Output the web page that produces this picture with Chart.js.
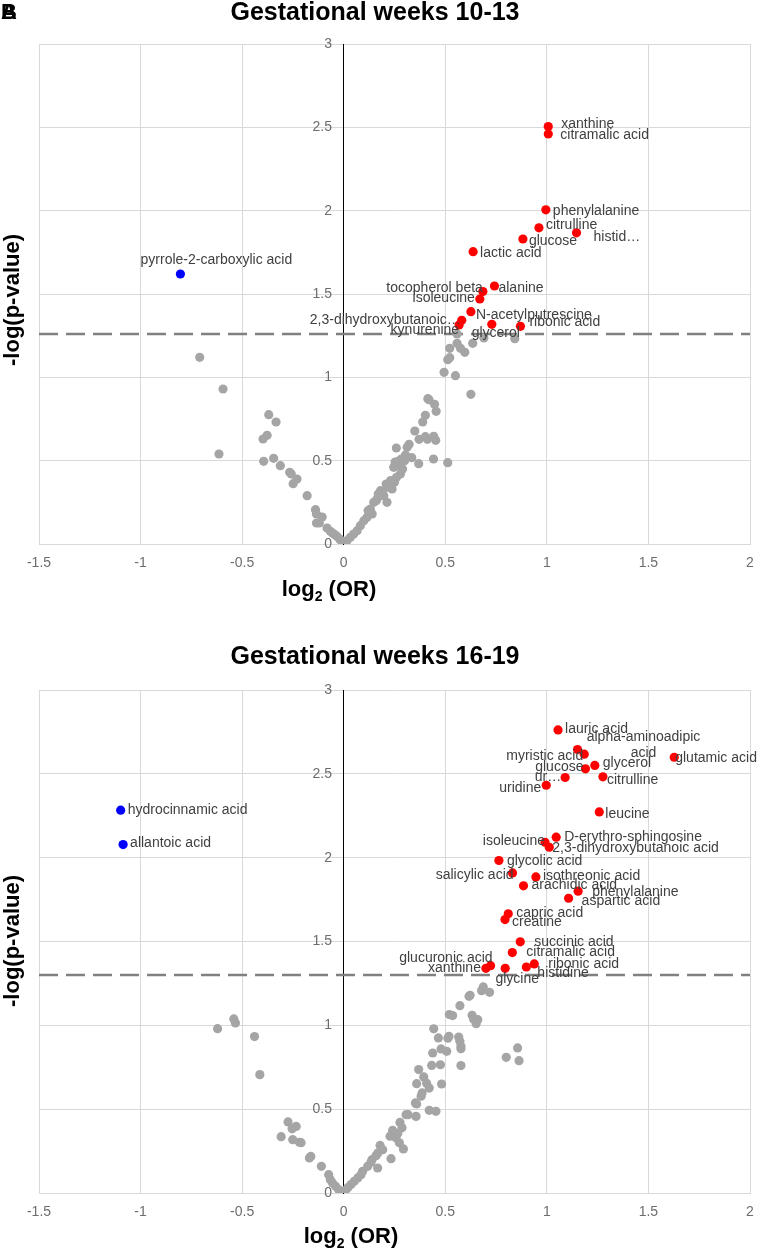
<!DOCTYPE html>
<html>
<head>
<meta charset="utf-8">
<title>Volcano plots</title>
<script src="https://cdn.jsdelivr.net/npm/chart.js@4.4.1/dist/chart.umd.min.js"></script>
<style>
  body { margin: 0; background: #fff; width: 763px; height: 1251px; overflow: hidden; position: relative; }
  .panel { position: absolute; left: 0; width: 763px; }
  #p1 { top: 0; height: 615px; }
  #p2 { top: 644px; height: 607px; }
</style>
</head>
<body>
<div class="panel" id="p1"><canvas id="c1"></canvas></div>
<div class="panel" id="p2"><canvas id="c2"></canvas></div>
<script>
// axis range, shared by both panels
const xMin = -1.5, xMax = 2;
const yMin = 0, yMax = 3;

// ---- gestational weeks 10-13 ----
const wk10Title = 'Gestational weeks 10-13';
const wk10Cut = 1.26;
const wk10SigNames = ['xanthine', 'citramalic acid', 'phenylalanine', 'citrulline', 'histid\u2026', 'glucose',
  'lactic acid', 'alanine', 'tocopherol beta', 'isoleucine', 'N-acetylputrescine',
  '2,3-dihydroxybutanoic\u2026', 'kynurenine', 'glycerol', 'ribonic acid'];
const wk10SigX = [1.007, 1.007, 0.995, 0.961, 1.146, 0.882, 0.637, 0.742, 0.685, 0.670, 0.626, 0.581, 0.568, 0.729, 0.870];
const wk10SigY = [2.505, 2.460, 2.005, 1.897, 1.867, 1.830, 1.754, 1.548, 1.515, 1.470, 1.394, 1.342, 1.314, 1.318, 1.306];
const wk10NegNames = ['pyrrole-2-carboxylic acid'];
const wk10NegX = [-0.804];
const wk10NegY = [1.62];
const wk10RestX = [-0.709, -0.594, -0.614, -0.369, -0.333, -0.377, -0.397, -0.394, -0.345, -0.312, -0.266, -0.258,
  -0.249, -0.23, -0.18, -0.139, -0.134, -0.106, -0.134, -0.12, -0.082, -0.066, -0.055, -0.044, -0.033, -0.02, -0.01, 0,
  0.558, 0.522, 0.558, 0.575, 0.596, 0.635, 0.69, 0.842, 0.512, 0.522, 0.494, 0.55, 0.626, 0.414, 0.42, 0.447,
  0.455, 0.402, 0.389, 0.35, 0.371, 0.402, 0.412, 0.443, 0.453, 0.322, 0.312, 0.259, 0.335, 0.304, 0.284, 0.253,
  0.271, 0.246, 0.282, 0.369, 0.442, 0.512, 0.279, 0.25, 0.209, 0.238, 0.181, 0.197, 0.213, 0.164, 0.148, 0.131,
  0.14, 0.115, 0.099, 0.082, 0.066, 0.049, 0.033, 0.016, 0.12, 0.16, 0.19, 0.22, 0.26, 0.29, 0.3, 0.23, 0.17];
const wk10RestY = [1.12, 0.93, 0.54, 0.776, 0.732, 0.652, 0.63, 0.496, 0.514, 0.47, 0.43, 0.42,
  0.362, 0.39, 0.29, 0.206, 0.18, 0.162, 0.126, 0.126, 0.096, 0.076, 0.066, 0.056, 0.046, 0.03, 0.016, 0.002,
  1.26, 1.174, 1.204, 1.174, 1.15, 1.204, 1.236, 1.232, 1.106, 1.118, 1.03, 1.01, 0.898, 0.872, 0.866, 0.838,
  0.796, 0.772, 0.732, 0.678, 0.628, 0.644, 0.628, 0.646, 0.622, 0.598, 0.58, 0.576, 0.518, 0.534, 0.51, 0.492,
  0.498, 0.46, 0.46, 0.482, 0.51, 0.488, 0.42, 0.37, 0.36, 0.33, 0.32, 0.29, 0.25, 0.27, 0.25, 0.21,
  0.18, 0.16, 0.14, 0.11, 0.08, 0.06, 0.04, 0.02, 0.2, 0.26, 0.31, 0.34, 0.4, 0.45, 0.5, 0.38, 0.3];

// ---- gestational weeks 16-19 ----
const wk16Title = 'Gestational weeks 16-19';
const wk16Cut = 1.30;
const wk16SigNames = ['lauric acid', 'alpha-aminoadipic\nacid', 'myristic acid', 'glutamic acid', 'glycerol', 'glucose',
  'ur\u2026', 'citrulline', 'uridine', 'leucine', 'D-erythro-sphingosine', 'isoleucine', '2,3-dihydroxybutanoic acid',
  'glycolic acid', 'salicylic acid', 'isothreonic acid', 'arachidic acid', 'phenylalanine', 'aspartic acid',
  'capric acid', 'creatine', 'succinic acid', 'citramalic acid', 'ribonic acid', 'histidine', 'glycine',
  'glucuronic acid', 'xanthine'];
const wk16SigX = [1.055, 1.151, 1.184, 1.627, 1.236, 1.19, 1.09, 1.276, 0.997, 1.258, 1.046, 0.991, 1.012,
  0.764, 0.831, 0.946, 0.885, 1.154, 1.107, 0.81, 0.794, 0.869, 0.83, 0.938, 0.899, 0.795, 0.723, 0.70];
const wk16SigY = [2.762, 2.645, 2.617, 2.599, 2.55, 2.53, 2.478, 2.482, 2.432, 2.273, 2.122, 2.092, 2.062,
  1.983, 1.909, 1.885, 1.832, 1.80, 1.758, 1.665, 1.631, 1.498, 1.434, 1.366, 1.348, 1.34, 1.356, 1.34];
const wk16NegNames = ['hydrocinnamic acid', 'allantoic acid'];
const wk16NegX = [-1.098, -1.086];
const wk16NegY = [2.283, 2.078];
const wk16RestX = [-0.621, -0.541, -0.533, -0.439, -0.413, -0.274, -0.234, -0.254, -0.308, -0.251, -0.218, -0.21,
  -0.169, -0.162, -0.11, -0.074, -0.066, -0.055, -0.04, -0.025, -0.01,
  0.687, 0.679, 0.718, 0.622, 0.617, 0.572, 0.52, 0.536, 0.632, 0.639, 0.66, 0.652, 0.443, 0.466, 0.518, 0.513,
  0.566, 0.572, 0.577, 0.577, 0.479, 0.507, 0.438, 0.433, 0.476, 0.577, 0.8, 0.856, 0.863, 0.369, 0.394, 0.359,
  0.408, 0.421, 0.386, 0.381, 0.482, 0.353, 0.359, 0.421, 0.454, 0.317, 0.307, 0.356, 0.277, 0.287, 0.241, 0.266,
  0.228, 0.257, 0.274, 0.294, 0.233, 0.179, 0.192, 0.168, 0.159, 0.139, 0.134, 0.118, 0.167, 0.093, 0.085, 0.069,
  0.052, 0.036, 0.02, 0.008];
const wk16RestY = [0.98, 1.038, 1.014, 0.933, 0.706, 0.424, 0.397, 0.383, 0.336, 0.318, 0.302, 0.3,
  0.209, 0.218, 0.159, 0.109, 0.079, 0.06, 0.04, 0.02, 0.01,
  1.229, 1.207, 1.197, 1.179, 1.173, 1.117, 1.064, 1.058, 1.06, 1.038, 1.034, 1.01, 0.979, 0.925, 0.935, 0.923,
  0.93, 0.905, 0.875, 0.861, 0.859, 0.845, 0.835, 0.761, 0.765, 0.76, 0.809, 0.865, 0.789, 0.736, 0.692, 0.652,
  0.655, 0.626, 0.597, 0.577, 0.65, 0.537, 0.531, 0.493, 0.487, 0.467, 0.467, 0.457, 0.421, 0.389, 0.374, 0.355,
  0.339, 0.329, 0.299, 0.263, 0.205, 0.284, 0.258, 0.238, 0.222, 0.199, 0.183, 0.159, 0.149, 0.129, 0.109, 0.09,
  0.07, 0.05, 0.032, 0.015];

// where each data label sits: [anchor, dx, dy] relative to its point
const wk10Place = {
  'xanthine': ['l', 13, -2], 'citramalic acid': ['l', 12, 1], 'phenylalanine': ['l', 7, 1],
  'citrulline': ['l', 7, -3], 'histid\u2026': ['l', 17, 4], 'glucose': ['l', 6, 2], 'lactic acid': ['l', 7, 1],
  'alanine': ['l', 4, 2], 'tocopherol beta': ['r', 0, -3], 'isoleucine': ['r', -5, -1],
  'N-acetylputrescine': ['l', 5, 3], '2,3-dihydroxybutanoic\u2026': ['r', -1, 0], 'kynurenine': ['r', 0, 5],
  'glycerol': ['c', 4, 9], 'ribonic acid': ['l', 9, -4], 'pyrrole-2-carboxylic acid': ['c', 36, -14]
};
const wk16Place = {
  'lauric acid': ['l', 7, -1], 'alpha-aminoadipic\nacid': ['c', 66, -12], 'myristic acid': ['r', -1, 2],
  'glutamic acid': ['l', 1, 1], 'glycerol': ['l', 8, -2], 'glucose': ['r', -2, -2], 'ur\u2026': ['r', -4, 0],
  'citrulline': ['l', 4, 3], 'uridine': ['r', -5, 3], 'leucine': ['l', 6, 2], 'D-erythro-sphingosine': ['l', 8, 0],
  'isoleucine': ['r', 0, -1], '2,3-dihydroxybutanoic acid': ['l', 3, 1], 'glycolic acid': ['l', 8, 1],
  'salicylic acid': ['r', 1, 2], 'isothreonic acid': ['l', 7, -1], 'arachidic acid': ['l', 8, -1],
  'phenylalanine': ['l', 14, 1], 'aspartic acid': ['l', 13, 3], 'capric acid': ['l', 8, -1],
  'creatine': ['l', 7, 3], 'succinic acid': ['l', 14, 0], 'citramalic acid': ['l', 14, 0],
  'ribonic acid': ['l', 14, 0], 'histidine': ['l', 11, 6], 'glycine': ['c', 12, 11],
  'glucuronic acid': ['r', 2, -8], 'xanthine': ['r', -5, 0],
  'hydrocinnamic acid': ['l', 7, 0], 'allantoic acid': ['l', 7, -1]
};

const FONT = '"Liberation Sans", Arial, sans-serif';
Chart.defaults.font.family = FONT;

function pts(xs, ys) {
  return xs.map((x, i) => ({ x: x, y: ys[i] }));
}

// names next to the coloured points
const pointLabels = {
  id: 'pointLabels',
  afterDatasetsDraw(chart) {
    const ctx = chart.ctx;
    ctx.save();
    ctx.font = '14px ' + FONT;
    ctx.fillStyle = '#404040';
    ctx.textBaseline = 'middle';
    chart.data.datasets.forEach((ds, i) => {
      if (!ds.names) return;
      chart.getDatasetMeta(i).data.forEach((pt, j) => {
        const name = ds.names[j];
        const p = ds.place[name] || ['l', 7, 0];
        ctx.textAlign = p[0] === 'l' ? 'left' : (p[0] === 'r' ? 'right' : 'center');
        name.split('\n').forEach((line, k) => {
          ctx.fillText(line, pt.x + p[1], pt.y + p[2] + k * 16);
        });
      });
    });
    ctx.restore();
  }
};

// axis titles (with the subscript) and the panel letters
const axisTitles = {
  id: 'axisTitles',
  afterDraw(chart, args, o) {
    const ctx = chart.ctx;
    ctx.save();
    ctx.fillStyle = '#000';
    ctx.font = 'bold 22px ' + FONT;
    ctx.textAlign = 'center';
    ctx.textBaseline = 'middle';
    ctx.translate(o.yx, o.yy);
    ctx.rotate(-Math.PI / 2);
    ctx.fillText('-log(p-value)', 0, 0);
    ctx.restore();

    ctx.save();
    ctx.fillStyle = '#000';
    ctx.textAlign = 'left';
    ctx.textBaseline = 'alphabetic';
    const big = 'bold 22px ' + FONT, small = 'bold 14px ' + FONT;
    ctx.font = big;
    const w1 = ctx.measureText('log').width, w3 = ctx.measureText(' (OR)').width;
    ctx.font = small;
    const w2 = ctx.measureText('2').width;
    let x = o.xx - (w1 + w2 + w3) / 2;
    ctx.font = big;
    ctx.fillText('log', x, o.xy);
    ctx.font = small;
    ctx.fillText('2', x + w1, o.xy + 5);
    ctx.font = big;
    ctx.fillText(' (OR)', x + w1 + w2, o.xy);
    if (o.letters) {
      ctx.font = 'bold 22px ' + FONT;
      o.letters.forEach(l => ctx.fillText(l, 1, 19));
    }
    ctx.restore();
  }
};

function panel(id, o) {
  const dot = { pointRadius: 4.6, pointHoverRadius: 4.6, borderWidth: 0 };
  return new Chart(document.getElementById(id), {
    type: 'scatter',
    data: {
      datasets: [
        Object.assign({ names: o.sigNames, place: o.place, data: pts(o.sigX, o.sigY), backgroundColor: '#ff0000' }, dot),
        Object.assign({ names: o.negNames, place: o.place, data: pts(o.negX, o.negY), backgroundColor: '#0000ff' }, dot),
        Object.assign({ data: pts(o.restX, o.restY), backgroundColor: '#a5a5a5' }, dot),
        {
          type: 'line',
          data: [{ x: xMin, y: o.cut }, { x: xMax, y: o.cut }],
          borderColor: '#808080', borderWidth: 2.5, borderDash: [19, 8], pointRadius: 0
        }
      ]
    },
    options: {
      responsive: true,
      maintainAspectRatio: false,
      animation: false,
      events: [],
      layout: { padding: { left: 0, right: 13, top: 0, bottom: 0 } },
      plugins: {
        legend: { display: false },
        tooltip: { enabled: false },
        title: {
          display: true,
          text: o.title,
          color: '#000',
          font: { size: 25, weight: 'bold', lineHeight: 0.88 },
          padding: { top: 2, bottom: o.titleGap }
        },
        axisTitles: o.titles
      },
      scales: {
        x: {
          type: 'linear', min: xMin, max: xMax,
          ticks: { stepSize: 0.5, color: '#6d6d6d', font: { size: 14 }, padding: 11, maxRotation: 0,
                   autoSkip: false, callback: v => String(v) },
          grid: { color: '#d9d9d9', drawTicks: false },
          border: { color: '#d9d9d9' },
          afterFit(s) { s.height = o.xAxisH; s.paddingLeft = 0; s.paddingRight = 0; }
        },
        y: {
          type: 'linear', position: 'left', min: yMin, max: yMax,
          ticks: { display: false, stepSize: 0.5 },
          grid: { color: '#d9d9d9', drawTicks: false },
          border: { display: false },
          afterFit(s) { s.width = 39; }
        },
        y0: {
          type: 'linear', axis: 'y', position: { x: 0 }, min: yMin, max: yMax,
          ticks: { stepSize: 0.5, color: '#6d6d6d', font: { size: 14 }, callback: v => v + '   ' },
          grid: { color: 'rgba(0,0,0,0)', drawTicks: false },
          border: { color: '#000', width: 1 }
        }
      }
    },
    plugins: [pointLabels, axisTitles]
  });
}

panel('c1', {
  title: wk10Title, titleGap: 20, xAxisH: 71, cut: wk10Cut, place: wk10Place,
  sigNames: wk10SigNames, sigX: wk10SigX, sigY: wk10SigY,
  negNames: wk10NegNames, negX: wk10NegX, negY: wk10NegY,
  restX: wk10RestX, restY: wk10RestY,
  titles: { yx: 12.5, yy: 300, xx: 329, xy: 596, letters: ['B', 'A'] }
});

panel('c2', {
  title: wk16Title, titleGap: 22, xAxisH: 58, cut: wk16Cut, place: wk16Place,
  sigNames: wk16SigNames, sigX: wk16SigX, sigY: wk16SigY,
  negNames: wk16NegNames, negX: wk16NegX, negY: wk16NegY,
  restX: wk16RestX, restY: wk16RestY,
  titles: { yx: 12.5, yy: 297, xx: 351, xy: 599 }
});
</script>
</body>
</html>
